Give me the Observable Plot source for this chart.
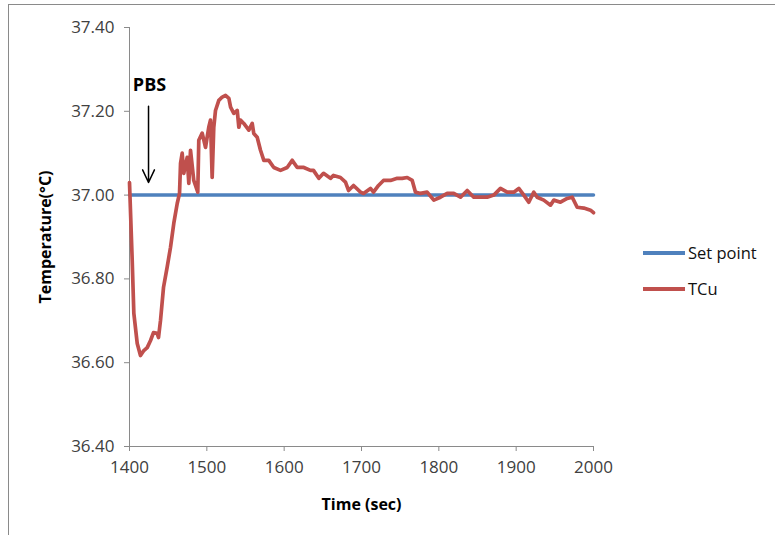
<!DOCTYPE html>
<html>
<head>
<meta charset="utf-8">
<script src="https://cdn.jsdelivr.net/npm/d3@7"></script>
<script src="https://cdn.jsdelivr.net/npm/@observablehq/plot@0.6"></script>
<style>
  html, body { margin: 0; padding: 0; background: #fff; }
  #wrap { position: relative; width: 775px; height: 535px; overflow: hidden; font-family: "Open Sans", sans-serif; }
  #frame { position: absolute; left: 8px; top: 4px; width: 800px; height: 600px; border-left: 1.5px solid #8a8a8a; border-top: 1.5px solid #8a8a8a; box-sizing: border-box; pointer-events: none; }
  #chart { position: absolute; left: 0; top: 0; }
  .leg { position: absolute; left: 643px; font-size: 16.5px; color: #111; display: flex; align-items: center; }
  .leg .sw { width: 42px; height: 4px; margin-right: 3px; }
</style>
</head>
<body>
<div id="wrap">
  <div id="chart"></div>
  <div id="frame"></div>
  <div class="leg" style="top:241px"><span class="sw" style="background:#4F81BD"></span><span>Set point</span></div>
  <div class="leg" style="top:277px"><span class="sw" style="background:#C0504D"></span><span>TCu</span></div>
</div>
<script>
// Set point series
const setTime = [1400, 2000];
const setTemp = [37.00, 37.00];

// TCu series
const tcuTime = [1400, 1403.5, 1405.6, 1410.0, 1414.2, 1418.5, 1422.9, 1427.2, 1431.0, 1435.8,
  1437.5, 1440.1, 1444.0, 1448.7, 1453.0, 1457.3, 1461.7, 1464.7, 1466.0, 1468.1,
  1470.2, 1474.6, 1476.7, 1478.9, 1483.1, 1488.3, 1489.6, 1494.0, 1498.3, 1502.5,
  1504.7, 1506.9, 1509.0, 1511.2, 1515.5, 1519.9, 1524.2, 1528.5, 1530.7, 1534.9,
  1539.3, 1541.4, 1543.5, 1547.8, 1554.3, 1558.7, 1560.7, 1565.1, 1569.4, 1573.7,
  1580.1, 1586.6, 1595.3, 1603.9, 1610.4, 1616.9, 1625.4, 1634.0, 1637.9, 1644.8,
  1650.9, 1659.9, 1663.8, 1672.8, 1679.3, 1683.2, 1689.7, 1698.7, 1702.6, 1711.6,
  1715.5, 1722.0, 1728.4, 1737.5, 1746.2, 1752.6, 1759.1, 1765.6, 1769.8, 1776.3,
  1784.9, 1793.5, 1802.1, 1810.8, 1819.3, 1828.0, 1836.7, 1845.2, 1853.9, 1862.5,
  1871.1, 1879.7, 1888.4, 1896.9, 1903.4, 1909.9, 1916.3, 1922.8, 1927.2, 1935.7,
  1944.4, 1948.7, 1957.3, 1966.0, 1972.4, 1978.9, 1987.5, 1996.1, 2000];
const tcuTemp = [37.03, 36.844, 36.718, 36.646, 36.617, 36.629, 36.636, 36.653, 36.672, 36.670,
  36.660, 36.701, 36.780, 36.828, 36.875, 36.933, 36.980, 37.004, 37.076, 37.100,
  37.052, 37.090, 37.028, 37.107, 37.035, 37.007, 37.131, 37.148, 37.114, 37.162,
  37.179, 37.042, 37.162, 37.202, 37.226, 37.234, 37.238, 37.231, 37.210, 37.195,
  37.202, 37.162, 37.179, 37.171, 37.155, 37.171, 37.147, 37.138, 37.107, 37.083,
  37.083, 37.066, 37.059, 37.066, 37.083, 37.066, 37.066, 37.059, 37.059, 37.040,
  37.052, 37.040, 37.047, 37.042, 37.031, 37.011, 37.023, 37.007, 37.004, 37.016,
  37.007, 37.023, 37.035, 37.035, 37.040, 37.040, 37.042, 37.035, 37.007, 37.004,
  37.007, 36.988, 36.995, 37.004, 37.004, 36.995, 37.011, 36.995, 36.995, 36.995,
  37.000, 37.016, 37.007, 37.007, 37.016, 37.000, 36.983, 37.007, 36.995, 36.988,
  36.976, 36.988, 36.983, 36.992, 36.995, 36.971, 36.969, 36.964, 36.958];

// Axis ticks
const xTicks = [1400, 1500, 1600, 1700, 1800, 1900, 2000];
const yTicks = [36.40, 36.60, 36.80, 37.00, 37.20, 37.40];

// Annotation
const annLabel = ["PBS"];
const annTime = [1424.6];
const annTextTemp = [37.262];
const annArrowFrom = [37.212];
const annArrowTo = [37.030];

const setData = setTime.map((t, i) => ({t, v: setTemp[i]}));
const tcuData = tcuTime.map((t, i) => ({t, v: tcuTemp[i]}));
const ann = annLabel.map((l, i) => ({l, t: annTime[i], ty: annTextTemp[i], y1: annArrowFrom[i], y2: annArrowTo[i]}));

const axisColor = "#8a8a8a";
const chart = Plot.plot({
  width: 775,
  height: 535,
  marginLeft: 129,
  marginRight: 182,
  marginTop: 27,
  marginBottom: 89,
  style: {fontFamily: "'Open Sans', sans-serif", background: "transparent", overflow: "visible"},
  x: {domain: [1400, 2000]},
  y: {domain: [36.4, 37.4]},
  marks: [
    Plot.ruleX([1400], {stroke: axisColor, strokeWidth: 1}),
    Plot.ruleY([36.4], {stroke: axisColor, strokeWidth: 1}),
    Plot.axisY({ticks: yTicks, tickSize: 5, stroke: axisColor, tickFormat: d => d.toFixed(2),
      fontSize: 17, fill: "#404040", tickPadding: 10,
      label: "Temperature(°C)", labelAnchor: "center", labelArrow: "none", labelOffset: 90}),
    Plot.axisX({ticks: xTicks, tickSize: 5, stroke: axisColor, tickFormat: d => String(d),
      fontSize: 17, fill: "#404040", tickPadding: 9,
      label: "Time (sec)", labelAnchor: "center", labelArrow: "none", labelOffset: 63}),
    Plot.line(setData, {x: "t", y: "v", stroke: "#4F81BD", strokeWidth: 3.5}),
    Plot.line(tcuData, {x: "t", y: "v", stroke: "#C0504D", strokeWidth: 3.7, strokeLinejoin: "round"}),
    Plot.arrow(ann, {x1: "t", x2: "t", y1: "y1", y2: "y2", stroke: "#000", strokeWidth: 1.5, headLength: 14, headAngle: 50}),
    Plot.text(ann, {x: "t", y: "ty", text: "l", fontSize: 18, fontWeight: "bold", fill: "#000", dx: 1})
  ]
});
// bold axis labels
chart.querySelectorAll("g[aria-label='y-axis label'] text, g[aria-label='x-axis label'] text").forEach(t => {
  t.setAttribute("font-weight", "bold");
  t.setAttribute("font-size", "16");
  t.setAttribute("fill", "#000");
});
document.getElementById("chart").appendChild(chart);
</script>
</body>
</html>
